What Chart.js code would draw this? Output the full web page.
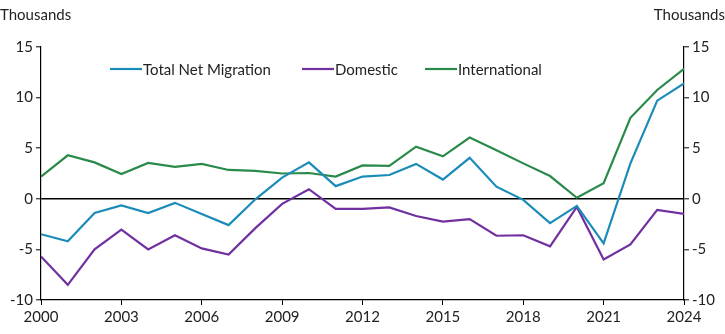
<!DOCTYPE html>
<html>
<head>
<meta charset="utf-8">
<script src="https://cdn.jsdelivr.net/npm/chart.js@4"></script>
<style>
  html, body { margin: 0; padding: 0; background: #fff; }
  #wrap { width: 725px; height: 334px; position: relative; }
</style>
</head>
<body>
<div id="wrap"><canvas id="chart"></canvas></div>
<script>
const years = [2000, 2001, 2002, 2003, 2004, 2005, 2006, 2007, 2008, 2009, 2010, 2011, 2012,
  2013, 2014, 2015, 2016, 2017, 2018, 2019, 2020, 2021, 2022, 2023, 2024];
const total = [-3.5, -4.2, -1.4, -0.65, -1.4, -0.4, -1.5, -2.6, -0.05, 2.1, 3.6, 1.25, 2.2,
  2.35, 3.45, 1.9, 4.05, 1.2, -0.1, -2.4, -0.7, -4.4, 3.5, 9.7, 11.4];
const domestic = [-5.7, -8.5, -5.0, -3.05, -5.0, -3.6, -4.9, -5.5, -2.9, -0.5, 0.95, -1.0, -1.0,
  -0.85, -1.7, -2.25, -2.0, -3.65, -3.6, -4.7, -0.8, -6.0, -4.5, -1.1, -1.5];
const international = [2.2, 4.3, 3.6, 2.45, 3.55, 3.15, 3.45, 2.85, 2.75, 2.5, 2.55, 2.2, 3.3,
  3.25, 5.15, 4.2, 6.05, 4.8, 3.5, 2.25, 0.1, 1.55, 8.0, 10.75, 12.85];
const seriesNames = ["Total Net Migration", "Domestic", "International"];
const colors = ["#1B8CB9", "#7030A0", "#2A8A4A"];
const yTicks = [-10, -5, 0, 5, 10, 15];

const FONT = "Lato, 'Open Sans', sans-serif";
const toPoints = vals => vals.map((v, i) => ({ x: years[i], y: v }));

// unit labels and in-plot legend
const extras = {
  id: "extras",
  afterDraw(chart) {
    const ctx = chart.ctx;
    ctx.save();
    ctx.font = "15px " + FONT;
    ctx.fillStyle = "#222";
    ctx.textBaseline = "middle";
    ctx.textAlign = "left";
    ctx.fillText("Thousands", 0, 15);
    ctx.textAlign = "right";
    ctx.fillText("Thousands", 725, 15);

    const starts = [110, 302, 425];
    ctx.textAlign = "left";
    chart.data.datasets.forEach((ds, i) => {
      const x = starts[i], y = 69;
      ctx.strokeStyle = ds.borderColor;
      ctx.lineWidth = 2.2;
      ctx.beginPath();
      ctx.moveTo(x, y);
      ctx.lineTo(x + 32, y);
      ctx.stroke();
      ctx.fillStyle = "#222";
      ctx.fillText(ds.label, x + 33, y + 1);
    });
    ctx.restore();
  }
};

const yAxis = (pos) => ({
  type: "linear",
  position: pos,
  min: -10,
  max: 15,
  afterBuildTicks: axis => { axis.ticks = yTicks.map(v => ({ value: v })); },
  afterFit: axis => { axis.width = 41; },
  border: { display: true, color: "#000", width: 1.2 },
  grid: {
    drawOnChartArea: pos === "left",
    color: c => (c.tick && c.tick.value === 0 ? "#000" : "rgba(0,0,0,0)"),
    lineWidth: 1.6,
    tickColor: "#000",
    tickLength: 5,
    tickWidth: 1
  },
  ticks: {
    color: "#222",
    font: { family: FONT, size: 15 },
    padding: 3
  }
});

new Chart(document.getElementById("chart"), {
  type: "line",
  data: {
    datasets: seriesNames.map((name, i) => ({
      label: name,
      data: toPoints([total, domestic, international][i]),
      borderColor: colors[i],
      backgroundColor: colors[i],
      borderWidth: 2.2,
      pointRadius: 0,
      tension: 0,
      yAxisID: "y"
    }))
  },
  options: {
    responsive: true,
    maintainAspectRatio: false,
    animation: false,
    layout: { padding: { top: 47, left: 0, right: 0, bottom: 0 } },
    plugins: { legend: { display: false }, tooltip: { enabled: false } },
    scales: {
      x: {
        type: "linear",
        min: 2000,
        max: 2024,
        afterBuildTicks: axis => {
          const t = [];
          for (let v = 2000; v <= 2024; v += 3) t.push({ value: v });
          axis.ticks = t;
        },
        afterFit: axis => { axis.height = 34; },
        border: { display: true, color: "#000", width: 1.2 },
        grid: { drawOnChartArea: false, tickColor: "#000", tickLength: 5 },
        ticks: {
          color: "#222",
          font: { family: FONT, size: 15 },
          padding: 3,
          maxRotation: 0,
          callback: v => String(v)
        }
      },
      y: yAxis("left"),
      y2: yAxis("right")
    }
  },
  plugins: [extras]
});
</script>
</body>
</html>
